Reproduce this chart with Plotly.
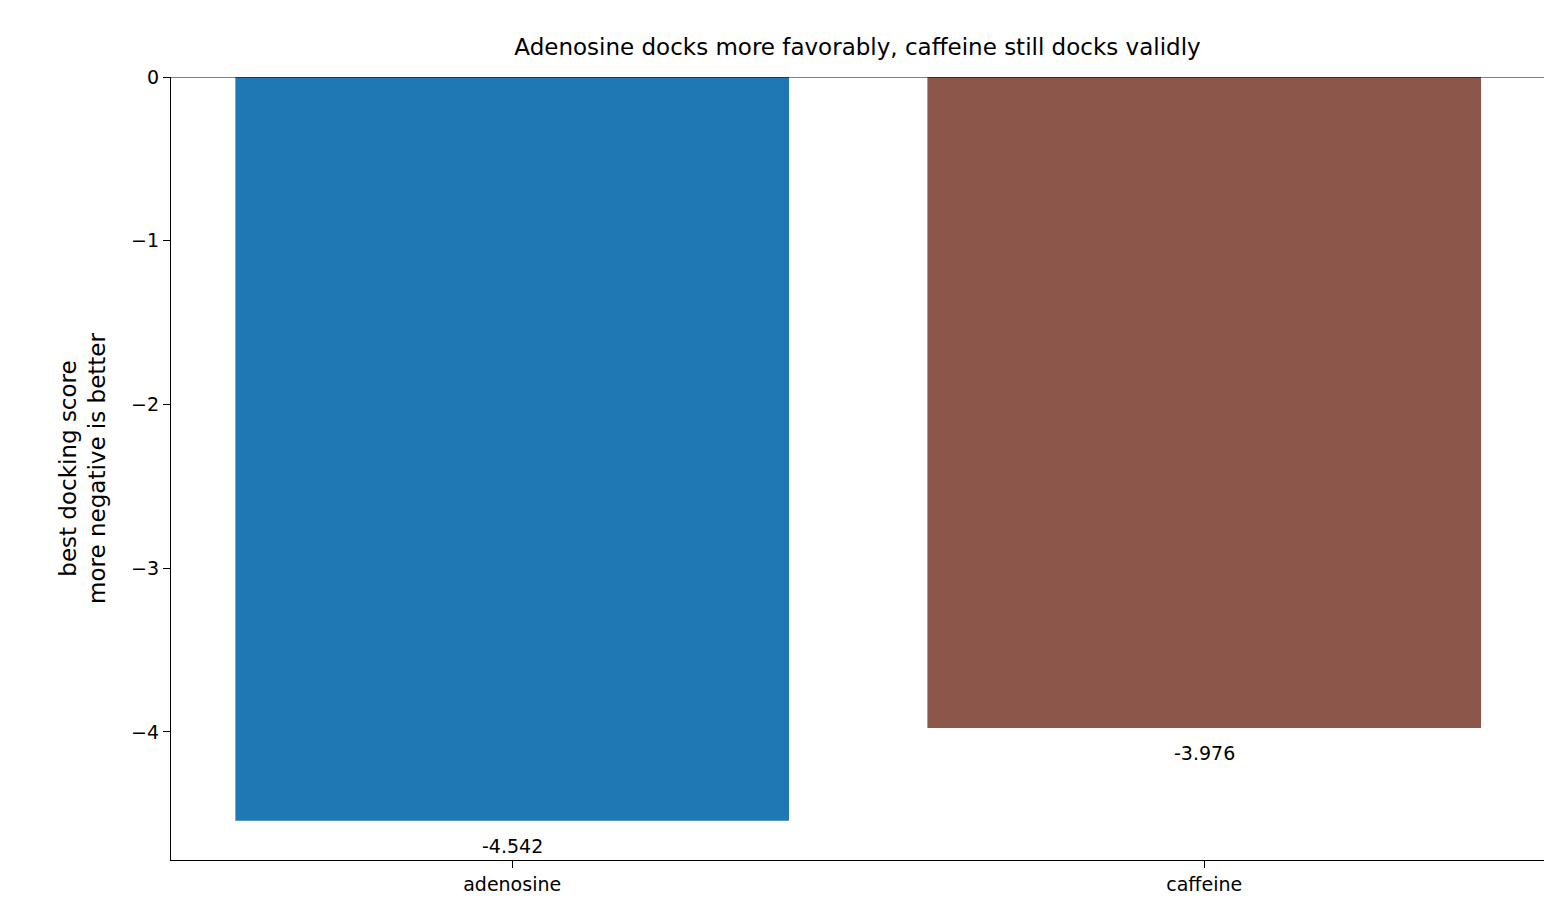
import plotly.graph_objects as go

categories = ["adenosine", "caffeine"]
scores = [-4.542, -3.976]
colors = ["#1f77b4", "#8c564b"]
labels = ["-4.542", "-3.976"]

fig = go.Figure()
fig.add_trace(go.Bar(x=[0, 1], y=scores, marker_color=colors, width=0.8,
                     marker_line_width=0, showlegend=False))
for i, (v, t) in enumerate(zip(scores, labels)):
    fig.add_annotation(x=i, y=v, text=t, showarrow=False, yanchor="top", yshift=-12,
                       font=dict(size=19, color="black"))
fig.add_shape(type="line", xref="paper", x0=0, x1=1, y0=0, y1=0,
              line=dict(color="black", width=1))
font = "DejaVu Sans"
fig.update_layout(
    width=1558, height=924, plot_bgcolor="white", paper_bgcolor="white",
    margin=dict(l=163, r=22, t=69, b=72),
    font=dict(family=font, size=19, color="black"),
    title=dict(text="Adenosine docks more favorably, caffeine still docks validly",
               x=0.5, xref="paper", y=0.958, yanchor="middle", font=dict(size=23)),
    bargap=0.2,
)
fig.update_xaxes(tickvals=[0, 1], ticktext=categories, range=[-0.493, 1.491],
                 showline=True, linecolor="black", linewidth=1.3, ticks="outside",
                 ticklen=7, tickcolor="black", showgrid=False, zeroline=False)
fig.update_yaxes(range=[-4.782, 0], tickvals=[0, -1, -2, -3, -4],
                 ticktext=["0", "−1", "−2", "−3", "−4"],
                 showline=True, linecolor="black", linewidth=1.3, ticks="outside",
                 ticklen=7, tickcolor="black", showgrid=False, zeroline=False,
                 title=dict(text="best docking score<br>more negative is better", standoff=18))
fig.write_html("out.html")
